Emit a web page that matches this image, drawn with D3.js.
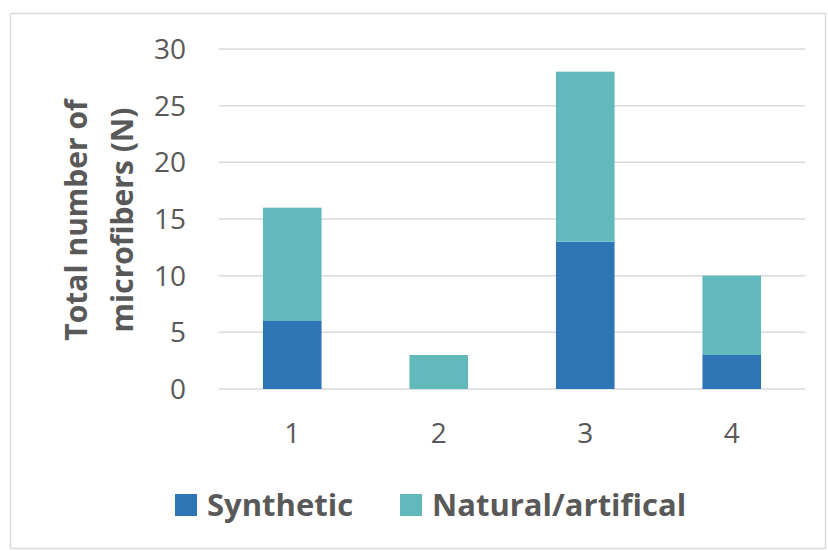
<!DOCTYPE html>
<html>
<head>
<meta charset="utf-8">
<script src="https://cdnjs.cloudflare.com/ajax/libs/d3/7.8.5/d3.min.js"></script>
<style>
  html, body { margin: 0; padding: 0; background: #fff; }
  svg { display: block; }
</style>
</head>
<body>
<script>
// Stacked counts of microfibers per sample
const categories = ["1", "2", "3", "4"];
const synthetic = [6, 0, 13, 3];
const natural = [10, 3, 15, 7];
const seriesNames = ["Synthetic", "Natural/artifical"];
const yTicks = [0, 5, 10, 15, 20, 25, 30];

const W = 828, H = 551;
const colors = ["#2E75B6", "#62B9BC"];
const textColor = "#595959";
const font = "'Open Sans', sans-serif";

const svg = d3.select("body").append("svg").attr("width", W).attr("height", H);

// Chart frame
svg.append("rect")
  .attr("x", 10.5).attr("y", 13.5)
  .attr("width", W - 13).attr("height", H - 16)
  .attr("fill", "#fff").attr("stroke", "#d9d9d9").attr("stroke-width", 1.5);

const margin = { left: 219, right: 23, top: 49, bottom: 162 };
const x = d3.scaleBand().domain(categories)
  .range([margin.left, W - margin.right]).paddingInner(0.6).paddingOuter(0.3);
const y = d3.scaleLinear().domain([0, 30]).range([389, 49]);

// Gridlines
svg.append("g").selectAll("line").data(yTicks).join("line")
  .attr("x1", margin.left).attr("x2", W - margin.right)
  .attr("y1", d => y(d)).attr("y2", d => y(d))
  .attr("stroke", "#d9d9d9").attr("stroke-width", 1.5);

// Y tick labels
svg.append("g").selectAll("text").data(yTicks).join("text")
  .attr("x", 186).attr("y", d => y(d)).attr("dy", "0.36em")
  .attr("text-anchor", "end")
  .attr("font-family", font).attr("font-size", 28).attr("fill", textColor)
  .text(d => d);

// Stacked bars
const rows = categories.map((c, i) => ({ cat: c, s0: synthetic[i], s1: natural[i] }));
const stack = d3.stack().keys(["s0", "s1"])(rows);
svg.append("g").selectAll("g").data(stack).join("g")
  .attr("fill", (d, i) => colors[i])
  .selectAll("rect").data(d => d).join("rect")
  .attr("x", d => x(d.data.cat))
  .attr("width", x.bandwidth())
  .attr("y", d => y(d[1]))
  .attr("height", d => y(d[0]) - y(d[1]));

// Category labels
svg.append("g").selectAll("text").data(categories).join("text")
  .attr("x", d => x(d) + x.bandwidth() / 2).attr("y", 443)
  .attr("text-anchor", "middle")
  .attr("font-family", font).attr("font-size", 28).attr("fill", textColor)
  .text(d => d);

// Y axis title (two lines)
const yt = svg.append("text")
  .attr("transform", "translate(96,220) rotate(-90)")
  .attr("text-anchor", "middle")
  .attr("font-family", font).attr("font-size", 30).attr("font-weight", "bold")
  .attr("fill", textColor);
yt.append("tspan").attr("x", 0).attr("y", -9).text("Total number of");
yt.append("tspan").attr("x", 0).attr("y", 37).text("microfibers (N)");

// Legend
const legendX = [175, 400];
const lg = svg.append("g").selectAll("g").data(seriesNames).join("g")
  .attr("transform", (d, i) => `translate(${legendX[i]},494)`);
lg.append("rect").attr("width", 22).attr("height", 22).attr("fill", (d, i) => colors[i]);
lg.append("text").attr("x", 32).attr("y", 22)
  .attr("font-family", font).attr("font-size", 31).attr("font-weight", "bold")
  .attr("fill", textColor).text(d => d);
</script>
</body>
</html>
